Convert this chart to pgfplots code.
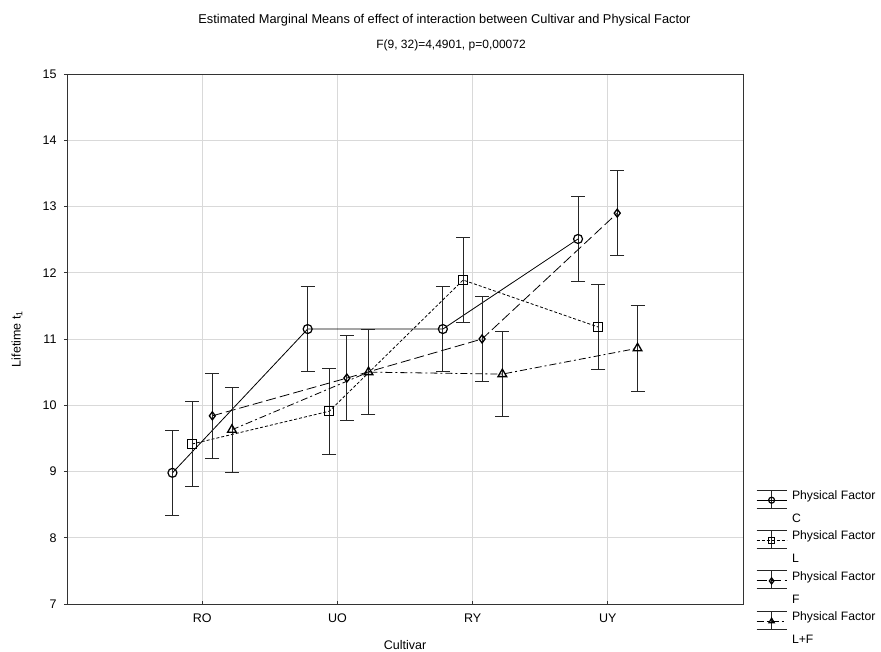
\documentclass[border=0pt]{standalone}
\usepackage{pgfplots}
\pgfplotsset{compat=1.18}
\usepackage{fontspec}
\setmainfont{Liberation Sans}
\pgfplotsset{
  ebar/.style={
    legend image code/.code={
      \begin{scope}[yshift=7pt]
      \draw[solid,black!85,line width=0.8pt] (0pt,10pt)--(30pt,10pt) (0pt,-8pt)--(30pt,-8pt) (15pt,10pt)--(15pt,-8pt);
      \draw[##1,mark=none] (0pt,0pt)--(30pt,0pt);
      \draw[##1,only marks,mark size=3pt] plot coordinates {(15pt,0pt)};
      \end{scope}
    }
  }
}
\begin{document}
\begin{tikzpicture}
\useasboundingbox (-67pt,-48pt) rectangle (814pt,604pt);
\node[font=\fontsize{12.8}{14}\selectfont] at (377.5pt,584pt) {Estimated Marginal Means of effect of interaction between Cultivar and Physical Factor};
\node[font=\fontsize{12}{14}\selectfont] at (384pt,559pt) {F(9, 32)=4,4901, p=0,00072};
\begin{axis}[
  width=676pt, height=530pt, scale only axis,
  xmin=-1, xmax=4, ymin=7, ymax=15,
  xtick={0,1,2,3}, xticklabels={RO,UO,RY,UY},
  ytick={7,8,...,15},
  grid=major, grid style={black!15, line width=0.8pt},
  axis line style={black!80, line width=0.9pt},
  tick style={black!80, line width=0.7pt},
  major tick length=3pt,
  xtick align=inside, ytick align=outside,
  xtick pos=bottom, ytick pos=left,
  ticklabel style={font=\fontsize{12.5}{14}\selectfont},
  /pgf/number format/assume math mode=true,
  yticklabel style={xshift=-4pt},
  xticklabel style={yshift=-6pt},
  xlabel={Cultivar},
  ylabel={Lifetime t\textsubscript{1}},
  label style={font=\fontsize{12.5}{14}\selectfont},
  xlabel style={at={(axis description cs:0.5,0)}, anchor=center, yshift=-41pt},
  ylabel style={at={(axis description cs:0,0.5)}, anchor=center, yshift=50pt},
  legend style={at={(1,0.222)}, anchor=north west, xshift=10pt, draw=none, fill=none,
    font=\fontsize{12.2}{23}\selectfont, cells={align=left, anchor=west}, row sep=3pt, column sep=3pt},
  legend cell align=left,
  error bars/y dir=both, error bars/y explicit,
  error bars/error bar style={black!85, line width=0.8pt, solid},
  error bars/error mark options={black!85, line width=0.8pt, rotate=90, mark size=7pt, solid},
  every axis plot/.append style={black, line width=0.8pt},
  clip=false,
]
\addplot[ebar, solid, mark=o, mark size=4.5pt, mark options={solid, line width=1.2pt}] coordinates {
 (-0.22,8.98) +- (0,0.645)
 (0.78,11.15) +- (0,0.645)
 (1.78,11.15) +- (0,0.645)
 (2.78,12.51) +- (0,0.645)
};
\addlegendentry{Physical Factor\\C}
\addplot[ebar, dash pattern=on 3pt off 2pt, mark=square, mark size=4.5pt, mark options={solid, line width=1.2pt}] coordinates {
 (-0.075,9.415) +- (0,0.645)
 (0.94,9.91) +- (0,0.645)
 (1.93,11.89) +- (0,0.645)
 (2.93,11.18) +- (0,0.645)
};
\addlegendentry{Physical Factor\\L}
\addplot[ebar, dash pattern=on 10pt off 4pt, mark=diamond, mark size=4pt, mark options={solid, line width=1.3pt}] coordinates {
 (0.075,9.84) +- (0,0.645)
 (1.07,10.41) +- (0,0.645)
 (2.07,11.0) +- (0,0.645)
 (3.07,12.90) +- (0,0.645)
};
\addlegendentry{Physical Factor\\F}
\addplot[ebar, dash pattern=on 7pt off 3pt on 2pt off 3pt, mark=triangle, mark size=5pt, mark options={solid, line width=1.3pt}] coordinates {
 (0.22,9.63) +- (0,0.645)
 (1.23,10.50) +- (0,0.645)
 (2.22,10.47) +- (0,0.645)
 (3.22,10.86) +- (0,0.645)
};
\addlegendentry{Physical Factor\\L+F}
\end{axis}
\end{tikzpicture}
\end{document}
